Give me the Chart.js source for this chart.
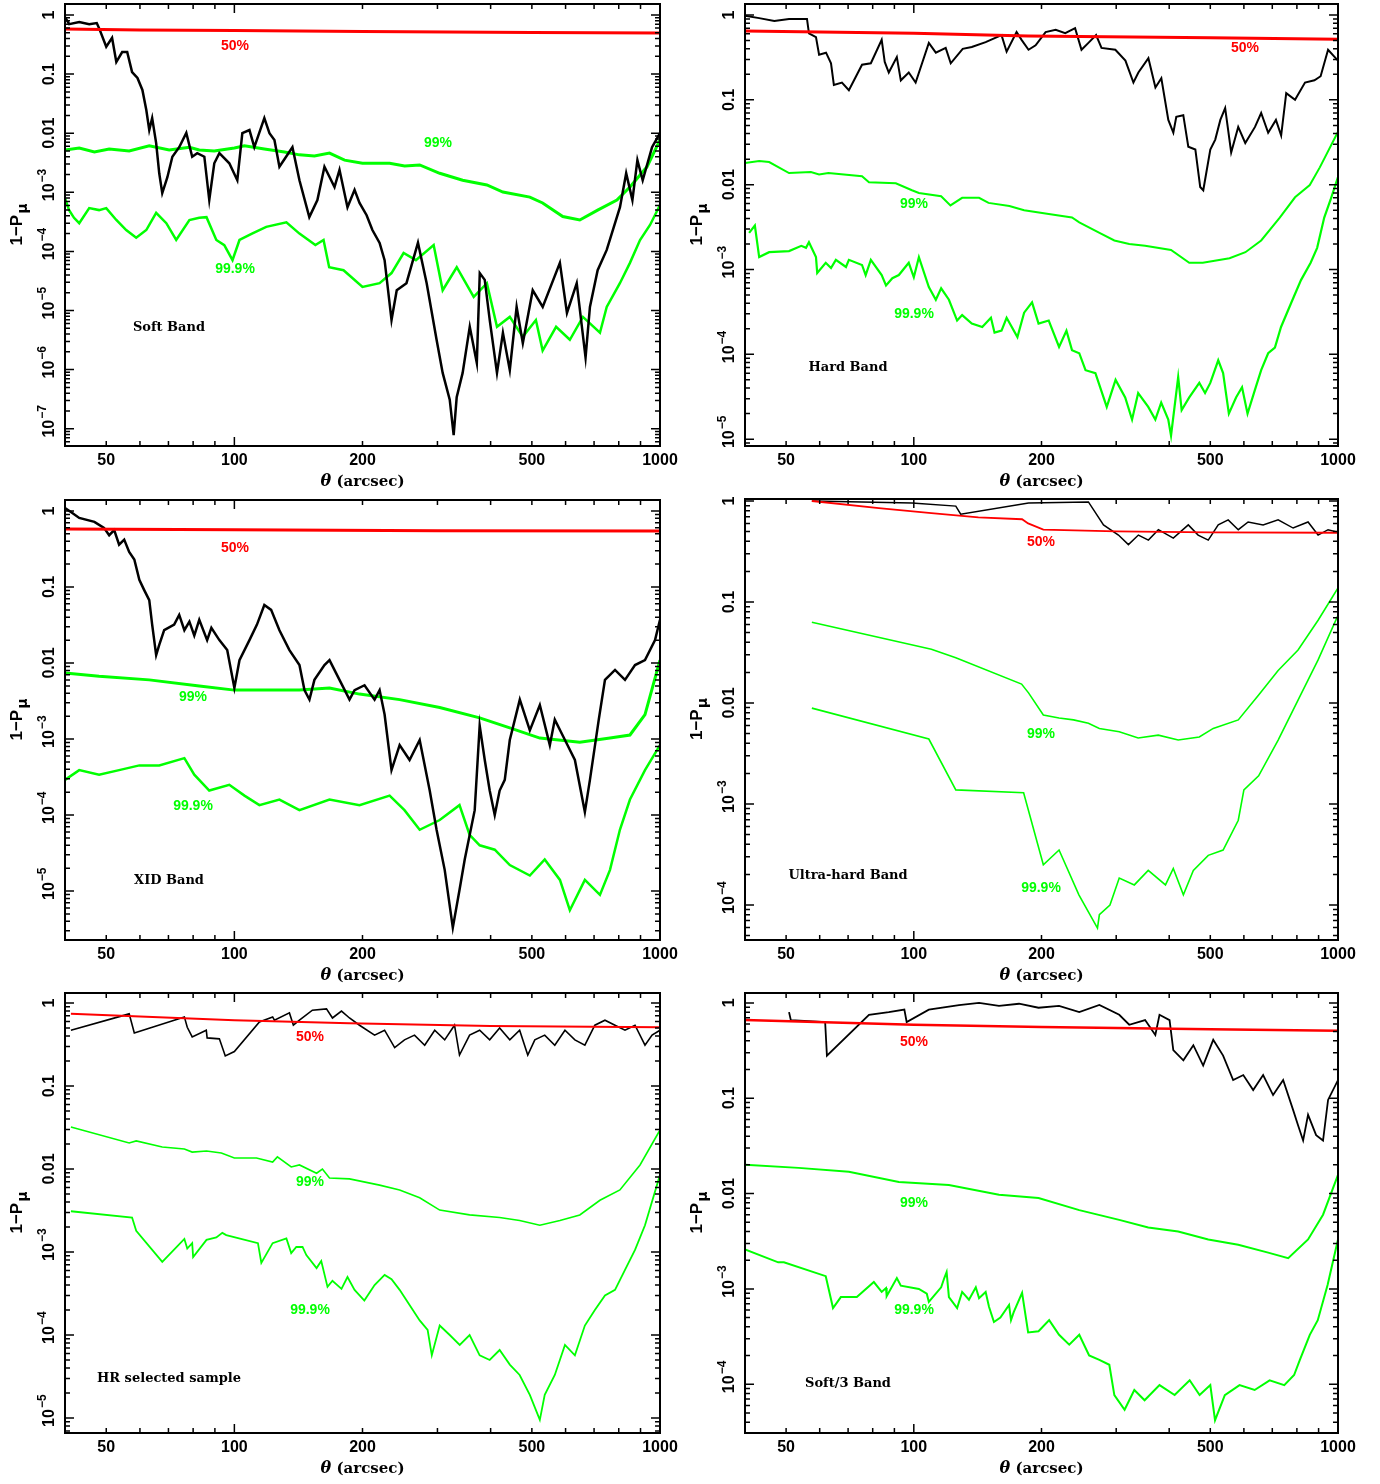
<!DOCTYPE html>
<html>
<head>
<meta charset="utf-8">
<script src="https://cdn.jsdelivr.net/npm/chart.js@4.4.0/dist/chart.umd.min.js"></script>
<style>
body { margin: 0; background: #fff; }
#wrap { position: relative; width: 1380px; height: 1484px; }
canvas { position: absolute; }
</style>
</head>
<body>
<div id="wrap">
<canvas id="soft" width="690" height="495" style="left:0px;top:0px"></canvas>
<canvas id="hard" width="690" height="495" style="left:690px;top:0px"></canvas>
<canvas id="xid" width="690" height="493" style="left:0px;top:495px"></canvas>
<canvas id="uhard" width="690" height="493" style="left:690px;top:495px"></canvas>
<canvas id="hr" width="690" height="496" style="left:0px;top:988px"></canvas>
<canvas id="soft3" width="690" height="496" style="left:690px;top:988px"></canvas>
</div>
<script>
// theta (arcsec) vs 1-P_mu, pairs are [theta, value]
const xTickValues = [40, 50, 60, 70, 80, 90, 100, 200, 300, 400, 500, 600, 700, 800, 900, 1000];
const xLabelValues = [50, 100, 200, 500, 1000];
const xTickLabels = ['50', '100', '200', '500', '1000'];

// Soft Band
const softObs = [[40,0.92],[40.9,0.70],[43.2,0.76],[45.6,0.70],[47.5,0.73],[48.1,0.60],[50,0.29],[51.6,0.41],[52.8,0.16],[54.5,0.236],[56,0.236],[57.5,0.108],[59.2,0.086],[60.8,0.054],[62.1,0.0247],[63.1,0.0113],[64.1,0.018],[65.5,0.0068],[66.6,0.0021],[67.7,0.00097],[69.6,0.0018],[71.5,0.004],[74.2,0.0058],[77.1,0.0101],[79.6,0.004],[81.8,0.0046],[85,0.004],[87.3,0.00074],[89.7,0.0031],[92.2,0.0046],[97.3,0.0031],[101.6,0.0016],[104.4,0.01],[108.5,0.0113],[111.4,0.0058],[117.6,0.018],[120.9,0.01],[124.2,0.0077],[127.6,0.0027],[136.9,0.0058],[142.2,0.0016],[150,0.00038],[156.7,0.00074],[162.8,0.0027],[171.9,0.00123],[176.6,0.0024],[184.4,0.00056],[191.6,0.0011],[196.8,0.00066],[204.5,0.00041],[211,0.00023],[219.4,0.000139],[225.4,7.1e-5],[234,6.9e-6],[240.7,2.2e-5],[253.7,2.9e-5],[270,1.4e-4],[283,2.9e-5],[298.6,3.2e-6],[308.6,8.8e-7],[320.6,3.1e-7],[327.5,7.8e-8],[332.9,3.4e-7],[343.8,8.8e-7],[357.3,5.3e-6],[371.2,1.3e-6],[377.2,4.3e-5],[387.5,3.3e-5],[398.1,6.9e-6],[414,8.8e-7],[427.5,4.2e-6],[443.7,9.8e-7],[460.4,1.15e-5],[476.1,2.8e-6],[502.3,2.2e-5],[530.2,1.15e-5],[581.8,6.4e-5],[604.5,9.1e-6],[637.3,2.9e-5],[668.5,1.6e-6],[684.5,1.15e-5],[713.7,4.8e-5],[749.6,1.06e-4],[805.3,5.6e-4],[832.8,0.0021],[861.3,0.00074],[884.9,0.0035],[910.6,0.0016],[957.9,0.0058],[1000,0.01]];
const softP50 = [[40,0.58],[60,0.56],[100,0.545],[200,0.525],[500,0.505],[1000,0.495]];
const softP99 = [[40,0.0052],[43.2,0.0056],[46.9,0.0048],[50.8,0.0054],[56.6,0.005],[63.1,0.0061],[70.3,0.0052],[78.4,0.0058],[82.7,0.0052],[89.7,0.005],[100,0.0056],[105.6,0.0061],[117.6,0.0054],[131.1,0.0048],[142.2,0.0043],[154.2,0.0041],[167.3,0.0046],[181.5,0.0035],[200,0.0031],[231.6,0.0031],[251.2,0.0028],[272.5,0.0029],[303.7,0.0021],[343.8,0.0016],[392,0.00133],[427.5,0.00101],[494.5,0.00083],[530,0.00066],[591,0.00039],[648,0.00034],[713.7,0.0005],[792,0.00074],[850,0.00123],[932,0.0027],[1000,0.0077]];
const softP999 = [[40,8.0e-4],[40.9,5.0e-4],[42,3.7e-4],[43.2,3.0e-4],[45.6,5.4e-4],[48.1,5.0e-4],[50,5.4e-4],[52.8,3.4e-4],[55.7,2.3e-4],[58.8,1.7e-4],[62.1,2.3e-4],[65.5,4.5e-4],[69.2,3.0e-4],[73,1.56e-4],[78.4,3.4e-4],[82.7,3.7e-4],[86,3.8e-4],[90.7,1.56e-4],[94.7,1.28e-4],[99,7.1e-5],[102.8,1.56e-4],[110,2.0e-4],[118.8,2.6e-4],[132.5,3.1e-4],[142.2,2.0e-4],[155,1.28e-4],[162,1.56e-4],[167,5.4e-5],[180.5,4.8e-5],[200,2.5e-5],[219.4,2.9e-5],[234,4.3e-5],[249.8,9.4e-5],[267,7.1e-5],[293.9,1.28e-4],[308.6,2.2e-5],[333,5.4e-5],[365,1.7e-5],[392,2.9e-5],[414,5.3e-6],[443.7,7.8e-6],[476,3.6e-6],[511,6.9e-6],[530,2.1e-6],[570,5.3e-6],[614,3.2e-6],[659,7.8e-6],[722.6,4.2e-6],[749.6,1.15e-5],[805,2.9e-5],[850,6.4e-5],[897.6,1.56e-4],[947.5,2.8e-4],[1000,6.1e-4]];

// Hard Band
const hardObs = [[40,0.98],[43.2,0.92],[46.9,0.85],[50.8,0.90],[56,0.90],[56.6,0.61],[58.8,0.55],[59.8,0.34],[62.1,0.36],[63.8,0.27],[64.8,0.15],[67.7,0.16],[70.3,0.13],[75.5,0.26],[79.2,0.27],[84,0.51],[85.4,0.28],[87.3,0.21],[91.2,0.32],[93.2,0.17],[97.3,0.21],[101,0.16],[108.5,0.47],[112.7,0.36],[118.9,0.41],[122.2,0.27],[130.4,0.40],[137,0.42],[147.7,0.48],[161,0.58],[165.5,0.37],[174.7,0.63],[179.5,0.51],[186.4,0.39],[193.7,0.44],[204.5,0.63],[216,0.67],[227.5,0.61],[240,0.70],[248.5,0.39],[258,0.47],[269,0.58],[277,0.41],[298.6,0.39],[315.4,0.29],[329.4,0.16],[338.4,0.21],[357.3,0.31],[371.2,0.14],[383.3,0.18],[398.1,0.058],[409.1,0.041],[415.7,0.063],[431.8,0.066],[443.7,0.028],[461,0.026],[473.3,0.0094],[481.3,0.0086],[500,0.026],[513.6,0.034],[528,0.058],[542,0.080],[560,0.024],[581.8,0.048],[604.5,0.031],[637.3,0.048],[659,0.07],[684.5,0.041],[714,0.058],[734.5,0.038],[755,0.12],[792,0.10],[836,0.16],[880,0.17],[910,0.19],[947.5,0.39],[1000,0.29]];
const hardP50 = [[40,0.65],[100,0.61],[186,0.565],[500,0.54],[1000,0.52]];
const hardP99 = [[40,0.018],[43.2,0.019],[45.6,0.0185],[50.8,0.0137],[57.2,0.0141],[59.8,0.0132],[62.9,0.0137],[75.5,0.0126],[78.4,0.0107],[90.7,0.0104],[99,0.0086],[102.8,0.008],[116,0.0073],[122,0.0057],[130,0.007],[142.5,0.007],[150,0.0061],[168,0.0056],[182,0.005],[208,0.0045],[236,0.0041],[245.5,0.0036],[274,0.0027],[297,0.0022],[322,0.002],[351,0.0019],[404,0.0017],[446,0.0012],[480,0.0012],[555,0.00136],[605,0.0016],[659,0.0022],[729,0.0041],[792,0.0071],[858,0.0099],[906,0.016],[1000,0.042]];
const hardP999 = [[40.9,0.0027],[42.2,0.0033],[43.2,0.0014],[45.6,0.0016],[50.8,0.00165],[54.3,0.0019],[55.7,0.0018],[56.6,0.0021],[58.8,0.0014],[59.2,0.00091],[62,0.0012],[63.8,0.00104],[65.5,0.0013],[69.2,0.00107],[70.3,0.0013],[75.5,0.00113],[77,0.00086],[79.2,0.0013],[84,0.00086],[86,0.00065],[89,0.00079],[92.2,0.00086],[97.3,0.0012],[100,0.00081],[102.8,0.0014],[108.5,0.00062],[112.7,0.00044],[116,0.0006],[121,0.00044],[126.5,0.00025],[130,0.00029],[137,0.00023],[145,0.00021],[152,0.00027],[155,0.00018],[161,0.00019],[165.5,0.00027],[175.5,0.00016],[182,0.00031],[190,0.00041],[196.8,0.00023],[208,0.00025],[220,0.000122],[229,0.00019],[236,0.000112],[245.5,0.000103],[254,6.5e-5],[268,6.0e-5],[285,2.4e-5],[299,5.0e-5],[315,3.1e-5],[327,1.7e-5],[338,3.5e-5],[357,2.4e-5],[371,1.7e-5],[383,2.7e-5],[398,1.7e-5],[404,1.1e-5],[420,5.4e-5],[428,2.2e-5],[446,3.1e-5],[471,4.6e-5],[486,3.5e-5],[500,4.6e-5],[522,8.5e-5],[536,6.0e-5],[553,2.0e-5],[575,3.1e-5],[594,4.1e-5],[612,2.0e-5],[640,4.1e-5],[659,6.5e-5],[684.5,1.03e-4],[710,1.2e-4],[734,2.1e-4],[775,4.0e-4],[818,7.5e-4],[862,0.0012],[893,0.0018],[928,0.0041],[960,0.0066],[1000,0.0123]];

// XID Band
const xidObs = [[40,1.09],[41.3,0.97],[43.2,0.81],[46.9,0.72],[49.4,0.60],[50.8,0.48],[52.2,0.56],[53.6,0.36],[55.1,0.42],[56.6,0.29],[58.2,0.23],[59.8,0.124],[61.4,0.091],[63.1,0.067],[64.1,0.032],[65.5,0.0127],[66.6,0.0173],[68.4,0.027],[72.2,0.032],[74.2,0.043],[76.3,0.027],[78.4,0.035],[80.5,0.023],[82.7,0.037],[86.3,0.020],[88.3,0.029],[92.2,0.020],[96.2,0.0148],[100,0.0047],[102.8,0.0109],[108.5,0.020],[113,0.032],[117.6,0.058],[122,0.050],[127.6,0.027],[134.7,0.0148],[142.2,0.0094],[146.1,0.0044],[150.1,0.0033],[154.2,0.006],[162.8,0.0094],[167.3,0.0109],[176.6,0.006],[186.4,0.0033],[191.6,0.0044],[202.2,0.0051],[213.5,0.0033],[219.4,0.0044],[225.4,0.0021],[234,3.9e-4],[244.5,8.3e-4],[258,5.3e-4],[272.5,9.7e-4],[287.7,2.1e-4],[298.6,6.4e-5],[312,1.9e-5],[326,3.3e-6],[338,1.03e-5],[347.7,2.6e-5],[367,1.16e-4],[377,0.0015],[387.5,5.3e-4],[398,2.1e-4],[409,1.0e-4],[420,2.1e-4],[431.8,2.9e-4],[443.7,9.7e-4],[468.4,0.0033],[494.5,0.0013],[522,0.0028],[551,8.3e-4],[566,0.0018],[598,9.7e-4],[631,5.3e-4],[666,1.1e-4],[684.5,2.9e-4],[718,0.0018],[742.5,0.006],[784,0.0081],[827.5,0.006],[873.6,0.0094],[922,0.0109],[973.5,0.020],[1000,0.037]];
const xidP50 = [[40,0.58],[100,0.565],[300,0.55],[1000,0.545]];
const xidP99 = [[40,0.0074],[48.1,0.0067],[63.1,0.006],[82.7,0.005],[100,0.0044],[120.9,0.0044],[142.2,0.0044],[167.3,0.0047],[196.8,0.0039],[244.5,0.0033],[303.7,0.0026],[377,0.0019],[443.7,0.0014],[522,0.00103],[648,0.00091],[763,0.00103],[850,0.00113],[922,0.0021],[1000,0.0109]];
const xidP999 = [[40,2.9e-4],[43.2,3.9e-4],[48.1,3.4e-4],[53.6,3.9e-4],[59.8,4.5e-4],[66.6,4.5e-4],[76.3,5.6e-4],[80.5,3.4e-4],[87.3,2.1e-4],[97.3,2.5e-4],[105.6,1.8e-4],[114.5,1.35e-4],[127.6,1.6e-4],[142.2,1.16e-4],[167.3,1.6e-4],[196.8,1.35e-4],[231.6,1.8e-4],[251,1.16e-4],[272.5,6.4e-5],[303.7,8.6e-5],[338,1.35e-4],[357,5.5e-5],[377,4.0e-5],[409,3.5e-5],[443.7,2.2e-5],[494.5,1.6e-5],[536,2.6e-5],[582,1.4e-5],[614,5.6e-6],[666,1.4e-5],[722.6,8.9e-6],[763,1.9e-5],[805,6.4e-5],[850,1.6e-4],[922,3.9e-4],[1000,8.3e-4]];

// Ultra-hard Band
const uhObs = [[57.5,1.0],[99,0.955],[125.6,0.89],[129,0.74],[186.4,0.955],[258,0.98],[280,0.58],[303.7,0.46],[320.6,0.37],[338.4,0.46],[357.3,0.41],[377.2,0.52],[409,0.43],[443.7,0.58],[468,0.46],[494.5,0.41],[522,0.58],[551,0.65],[582,0.52],[614,0.62],[666,0.58],[722.6,0.65],[783.8,0.54],[850,0.62],[897.6,0.46],[947.5,0.52],[1000,0.49]];
const uhP50 = [[57.5,1.0],[82.7,0.85],[110,0.76],[142,0.69],[180,0.66],[186,0.60],[202,0.52],[300,0.50],[500,0.49],[1000,0.485]];
const uhP99 = [[57.5,0.063],[110,0.034],[125.6,0.028],[179.5,0.0154],[186.4,0.0126],[202,0.0076],[220,0.0071],[238,0.0068],[258,0.0063],[273.8,0.0056],[305,0.0052],[338,0.0045],[377,0.0048],[420,0.0043],[471,0.0046],[508,0.0056],[582,0.0068],[650,0.012],[722.6,0.021],[805,0.0335],[897.6,0.066],[1000,0.138]];
const uhP999 = [[57.5,0.0089],[108.5,0.0044],[125.6,0.00138],[181.5,0.00129],[202,2.5e-4],[220,3.5e-4],[245,1.26e-4],[271,5.9e-5],[273.8,8.0e-5],[290,1.0e-4],[305,1.85e-4],[331,1.58e-4],[357,2.2e-4],[392,1.58e-4],[409,2.3e-4],[432,1.26e-4],[456,2.2e-4],[494.5,3.1e-4],[536,3.5e-4],[582,6.9e-4],[600,0.00138],[650,0.0019],[722.6,0.0043],[805,0.0107],[897.6,0.0267],[1000,0.074]];

// HR selected sample
const hrObs = [[41.3,0.47],[56.6,0.74],[58.2,0.435],[76.3,0.68],[77.5,0.51],[79.6,0.39],[85.9,0.47],[86.3,0.38],[92.2,0.37],[95.2,0.23],[100,0.26],[114.5,0.59],[123,0.68],[124.2,0.62],[134.7,0.76],[137.6,0.54],[142.2,0.62],[152.5,0.82],[164.6,0.85],[170,0.66],[178.5,0.80],[186.4,0.66],[196.8,0.54],[213.5,0.41],[225.4,0.47],[238,0.29],[251,0.36],[265,0.41],[280,0.31],[295.6,0.47],[312,0.36],[329,0.54],[338,0.236],[357,0.41],[377,0.47],[398,0.36],[420,0.50],[443.7,0.36],[468,0.47],[489,0.236],[508,0.36],[536,0.41],[566,0.31],[598,0.47],[631,0.36],[666,0.31],[703,0.54],[742.5,0.62],[784,0.54],[827.5,0.47],[873.6,0.54],[922,0.31],[958,0.41],[1000,0.47]];
const hrP50 = [[41.3,0.74],[100,0.62],[186,0.57],[400,0.53],[1000,0.51]];
const hrP99 = [[41.3,0.032],[56.6,0.0206],[58.8,0.0218],[67.7,0.0184],[76.3,0.0174],[79.6,0.016],[86,0.0165],[93.2,0.0156],[100,0.0136],[112.7,0.0136],[123,0.0121],[126.2,0.014],[136,0.0106],[142.2,0.0112],[156,0.0089],[161,0.01],[167.3,0.0078],[186.4,0.0076],[219.4,0.0064],[244.5,0.0056],[272.5,0.0045],[303.7,0.0032],[357,0.0028],[420,0.0026],[468,0.0024],[522,0.0021],[582,0.0024],[648,0.0028],[722.6,0.0042],[805,0.0056],[897.6,0.0112],[1000,0.0295]];
const hrP999 = [[41.3,0.0031],[57.5,0.0026],[58.8,0.0018],[67.7,7.6e-4],[76.3,0.00144],[77.5,0.0011],[79.6,0.00128],[80,8.7e-4],[86,0.0014],[90.7,0.0015],[93.7,0.0017],[95.7,0.0016],[113.6,0.00128],[115.7,7.4e-4],[123,0.00128],[132.5,0.00146],[136,9.7e-4],[139.8,0.00115],[144.6,0.00115],[147.6,9.2e-4],[156,6.4e-4],[160,7.8e-4],[165.5,3.8e-4],[170,4.5e-4],[178.5,3.6e-4],[184.4,5.0e-4],[191.6,3.5e-4],[202,2.6e-4],[213.5,4.0e-4],[225.4,5.3e-4],[234,4.7e-4],[244.5,3.5e-4],[258,2.3e-4],[272.5,1.5e-4],[284.5,1.15e-4],[291,5.7e-5],[303.7,1.3e-4],[320.6,1.0e-4],[338.4,7.6e-5],[357,1.0e-4],[377,5.7e-5],[398,5.0e-5],[420,6.6e-5],[443.7,4.4e-5],[468,3.3e-5],[494.5,1.9e-5],[522,9.5e-6],[536,1.9e-5],[566,3.3e-5],[598,7.6e-5],[631,5.7e-5],[666,1.3e-4],[703,2.0e-4],[742.5,3.0e-4],[784,3.5e-4],[827.5,6.1e-4],[873.6,0.00106],[922,0.0021],[1000,0.0085]];

// Soft/3 Band
const s3Obs = [[50.8,0.80],[51.3,0.66],[61.8,0.63],[62.4,0.28],[78.4,0.75],[87.3,0.80],[95,0.85],[96.2,0.63],[108.5,0.85],[127.8,0.95],[142.5,1.0],[158.8,0.93],[177,0.98],[196.8,0.89],[220,0.93],[245.5,0.80],[273.8,0.95],[305,0.75],[322,0.59],[351,0.66],[371,0.46],[379.5,0.75],[400.8,0.66],[409,0.32],[432,0.25],[456,0.36],[481,0.22],[508,0.41],[536,0.28],[566,0.155],[598,0.175],[631,0.122],[666,0.175],[703,0.108],[742.5,0.155],[784,0.075],[805,0.052],[827.5,0.036],[850,0.067],[888,0.041],[922,0.036],[947.5,0.096],[1000,0.155]];
const s3P50 = [[40,0.66],[100,0.59],[200,0.56],[500,0.53],[1000,0.51]];
const s3P99 = [[40,0.020],[53.5,0.0186],[70.3,0.0169],[92.2,0.0132],[121,0.0123],[158.8,0.0097],[196.8,0.009],[245.5,0.0067],[305,0.0053],[357,0.0044],[420,0.004],[494.5,0.0033],[582,0.0029],[684.5,0.0024],[763,0.0021],[850,0.0033],[922,0.006],[1000,0.0157]];
const s3P999 = [[40,0.0026],[47.9,0.0019],[49.4,0.0019],[62,0.00136],[64.5,6.3e-4],[67.3,8.2e-4],[73.4,8.2e-4],[80.5,0.00118],[84,9.3e-4],[86,0.00102],[86.3,8.4e-4],[91.2,0.0013],[93.2,0.00108],[102.8,0.001],[107.3,8.9e-4],[108.5,7.3e-4],[116,0.00104],[118,0.0013],[119.5,0.0015],[121,8.2e-4],[126.5,6.3e-4],[130,9.3e-4],[134.9,7.7e-4],[140,0.00104],[142.5,8.0e-4],[147.7,9.3e-4],[150.4,6.5e-4],[154.5,4.5e-4],[160,5.0e-4],[167.7,6.8e-4],[169.5,4.7e-4],[172,5.7e-4],[180,9.1e-4],[186,3.5e-4],[196.8,3.6e-4],[208.5,4.7e-4],[220,3.3e-4],[232.5,2.6e-4],[245.5,3.3e-4],[259,2.0e-4],[273.8,1.8e-4],[289,1.6e-4],[297,7.7e-5],[314,5.4e-5],[331,8.7e-5],[350,6.8e-5],[379.5,9.8e-5],[412,7.7e-5],[447,1.1e-4],[471.8,7.7e-5],[500,9.8e-5],[513,4.2e-5],[541,7.7e-5],[586,9.8e-5],[636,8.7e-5],[690,1.1e-4],[747,9.8e-5],[788,1.25e-4],[813,1.8e-4],[858,3.3e-4],[896,4.7e-4],[945,0.0011],[1000,0.0033]];

const RED = '#ff0000', GREEN = '#00ff00', BLACK = '#000000';

// panel layout: canvas origin, plot padding, y range, text positions (page px)
const panels = [
  { id: 'soft', ox: 0, oy: 0, pad: { left: 65, top: 4, right: 30, bottom: 49 }, yMin: 5.1e-8, yMax: 1.535,
    yPowers: [0, -1, -2, -3, -4, -5, -6, -7], series: [softP50, softObs, softP99, softP999], widths: [3, 2.5, 3, 2.5],
    tags: [['50%', 235, 46, RED], ['99%', 438, 143, GREEN], ['99.9%', 235, 269, GREEN], ['Soft Band', 169, 328, BLACK]] },
  { id: 'hard', ox: 690, oy: 0, pad: { left: 55, top: 4, right: 42, bottom: 49 }, yMin: 8.3e-6, yMax: 1.35,
    yPowers: [0, -1, -2, -3, -4, -5], series: [hardP50, hardObs, hardP99, hardP999], widths: [3, 2, 2, 2.2],
    tags: [['50%', 1245, 48, RED], ['99%', 914, 204, GREEN], ['99.9%', 914, 314, GREEN], ['Hard Band', 848, 368, BLACK]] },
  { id: 'xid', ox: 0, oy: 495, pad: { left: 65, top: 5, right: 30, bottom: 48 }, yMin: 2.27e-6, yMax: 1.395,
    yPowers: [0, -1, -2, -3, -4, -5], series: [xidP50, xidObs, xidP99, xidP999], widths: [3, 2.5, 3, 2.5],
    tags: [['50%', 235, 548, RED], ['99%', 193, 697, GREEN], ['99.9%', 193, 806, GREEN], ['XID Band', 169, 881, BLACK]] },
  { id: 'uhard', ox: 690, oy: 495, pad: { left: 55, top: 4, right: 42, bottom: 48 }, yMin: 4.5e-5, yMax: 1.047,
    yPowers: [0, -1, -2, -3, -4], series: [uhP50, uhObs, uhP99, uhP999], widths: [1.8, 1.5, 1.6, 1.6],
    tags: [['50%', 1041, 542, RED], ['99%', 1041, 734, GREEN], ['99.9%', 1041, 888, GREEN], ['Ultra-hard Band', 848, 876, BLACK]] },
  { id: 'hr', ox: 0, oy: 988, pad: { left: 65, top: 5, right: 30, bottom: 51 }, yMin: 6.6e-6, yMax: 1.32,
    yPowers: [0, -1, -2, -3, -4, -5], series: [hrP50, hrObs, hrP99, hrP999], widths: [2, 1.6, 1.6, 1.8],
    tags: [['50%', 310, 1037, RED], ['99%', 310, 1182, GREEN], ['99.9%', 310, 1310, GREEN], ['HR selected sample', 169, 1379, BLACK]] },
  { id: 'soft3', ox: 690, oy: 988, pad: { left: 55, top: 5, right: 42, bottom: 51 }, yMin: 3.08e-5, yMax: 1.27,
    yPowers: [0, -1, -2, -3, -4], series: [s3P50, s3Obs, s3P99, s3P999], widths: [2.5, 1.8, 2, 2],
    tags: [['50%', 914, 1042, RED], ['99%', 914, 1203, GREEN], ['99.9%', 914, 1310, GREEN], ['Soft/3 Band', 848, 1384, BLACK]] }
];

function toXY(pairs) {
  return pairs.map(d => ({ x: d[0], y: d[1] }));
}

function decorPlugin(p) {
  return {
    id: 'decor',
    afterDraw(chart) {
      const ctx = chart.ctx, a = chart.chartArea;
      const xs = chart.scales.x, ys = chart.scales.y;
      ctx.save();
      ctx.strokeStyle = '#000';
      ctx.lineWidth = 2;
      ctx.strokeRect(a.left, a.top, a.right - a.left, a.bottom - a.top);

      // inward ticks on all four sides
      ctx.lineWidth = 1.5;
      ctx.beginPath();
      xTickValues.forEach(v => {
        const x = xs.getPixelForValue(v);
        const len = (v === 100 || v === 1000) ? 9 : 5;
        ctx.moveTo(x, a.bottom); ctx.lineTo(x, a.bottom - len);
        ctx.moveTo(x, a.top); ctx.lineTo(x, a.top + len);
      });
      const k0 = Math.floor(Math.log10(p.yMin)), k1 = Math.ceil(Math.log10(p.yMax));
      for (let k = k0; k <= k1; k++) {
        for (let m = 1; m < 10; m++) {
          const v = m * Math.pow(10, k);
          if (v < p.yMin || v > p.yMax) continue;
          const y = ys.getPixelForValue(v);
          const len = m === 1 ? 9 : 5;
          ctx.moveTo(a.left, y); ctx.lineTo(a.left + len, y);
          ctx.moveTo(a.right, y); ctx.lineTo(a.right - len, y);
        }
      }
      ctx.stroke();

      // x tick labels + title
      ctx.fillStyle = '#000';
      ctx.textBaseline = 'middle';
      ctx.textAlign = 'center';
      ctx.font = 'bold 16px "Liberation Sans"';
      xLabelValues.forEach((v, i) => ctx.fillText(xTickLabels[i], xs.getPixelForValue(v), a.bottom + 15));

      const th = '\u03b8', rest = ' (arcsec)';
      ctx.font = 'bold italic 16px "DejaVu Serif"';
      const w1 = ctx.measureText(th).width;
      ctx.font = 'bold 15px "DejaVu Serif"';
      const w2 = ctx.measureText(rest).width;
      let tx = (a.left + a.right) / 2 - (w1 + w2) / 2;
      ctx.textAlign = 'left';
      ctx.font = 'bold italic 16px "DejaVu Serif"';
      ctx.fillText(th, tx, a.bottom + 36);
      ctx.font = 'bold 15px "DejaVu Serif"';
      ctx.fillText(rest, tx + w1, a.bottom + 36);

      // y tick labels, rotated
      p.yPowers.forEach(k => {
        const y = ys.getPixelForValue(Math.pow(10, k));
        ctx.save();
        ctx.translate(a.left - 16, y);
        ctx.rotate(-Math.PI / 2);
        ctx.font = 'bold 16px "Liberation Sans"';
        ctx.textAlign = 'center';
        if (k >= -2) {
          ctx.fillText(k === 0 ? '1' : (k === -1 ? '0.1' : '0.01'), 0, 1);
        } else {
          ctx.fillText('10', 0, 1);
          const w = ctx.measureText('10').width;
          ctx.font = 'bold 12px "Liberation Sans"';
          ctx.textAlign = 'left';
          ctx.fillText('\u2212' + (-k), w / 2 + 1, -6);
        }
        ctx.restore();
      });

      // y title 1-P_mu
      ctx.save();
      ctx.translate(a.left - 48, (a.top + a.bottom) / 2);
      ctx.rotate(-Math.PI / 2);
      ctx.font = 'bold 17px "Liberation Sans"';
      const t1 = '1\u2212P';
      const wa = ctx.measureText(t1).width;
      ctx.font = 'bold 14px "DejaVu Sans"';
      const wb = ctx.measureText('\u03bc').width;
      const x0 = -(wa + wb) / 2;
      ctx.textAlign = 'left';
      ctx.font = 'bold 17px "Liberation Sans"';
      ctx.fillText(t1, x0, 0);
      ctx.font = 'bold 14px "DejaVu Sans"';
      ctx.fillText('\u03bc', x0 + wa + 1, 6);
      ctx.restore();

      // in-plot labels
      ctx.textAlign = 'center';
      p.tags.forEach(t => {
        ctx.fillStyle = t[3];
        ctx.font = t[3] === BLACK ? 'bold 13px "DejaVu Serif"' : 'bold 14px "Liberation Sans"';
        ctx.fillText(t[0], t[1] - p.ox, t[2] - p.oy);
      });
      ctx.restore();
    }
  };
}

panels.forEach(p => {
  const colors = [RED, BLACK, GREEN, GREEN];
  const ds = p.series.map((s, i) => ({
    data: toXY(s),
    borderColor: colors[i],
    borderWidth: p.widths[i],
    showLine: true,
    pointRadius: 0,
    tension: 0,
    order: i
  }));
  new Chart(document.getElementById(p.id), {
    type: 'scatter',
    data: { datasets: ds },
    options: {
      responsive: false,
      animation: false,
      layout: { padding: p.pad },
      plugins: { legend: { display: false }, tooltip: { enabled: false } },
      scales: {
        x: { type: 'logarithmic', min: 40, max: 1000, display: false },
        y: { type: 'logarithmic', min: p.yMin, max: p.yMax, display: false }
      }
    },
    plugins: [decorPlugin(p)]
  });
});
</script>
</body>
</html>
